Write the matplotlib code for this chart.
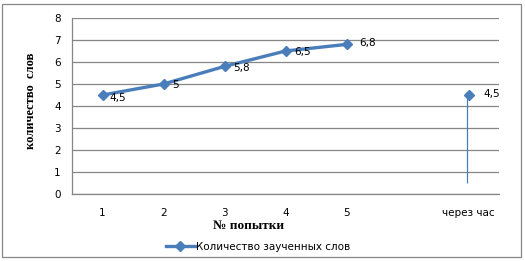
import matplotlib.pyplot as plt
from matplotlib.patches import Rectangle

categories = ["1", "2", "3", "4", "5", "", "через час"]
words = [4.5, 5, 5.8, 6.5, 6.8, None, 4.5]
labels = ["4,5", "5", "5,8", "6,5", "6,8", "", "4,5"]
drop_low = 0.5

blue = "#4A7EBB"
grid = "#868686"

fig = plt.figure(figsize=(5.25, 2.61), dpi=100)
ax = fig.add_axes([72 / 525, 1 - 194 / 261, 427 / 525, 176 / 261])

x = list(range(len(categories)))
xs_line = [i for i in x[:5]]
ys_line = [words[i] for i in xs_line]
ax.plot(xs_line, ys_line, color=blue, lw=2.4, marker="D", ms=5, zorder=3,
        label="Количество заученных слов")
ax.plot([6], [words[6]], color=blue, marker="D", ms=5, ls="none", zorder=3)
ax.vlines(6 - 0.03, drop_low, words[6], color=blue, lw=0.9, zorder=2)

offsets = [(5, -2), (6, -1), (6, -1), (6, -1), (9, 1), None, (11, 1)]
for i in x:
    if words[i] is None:
        continue
    dx, dy = offsets[i]
    ax.annotate(labels[i], (i, words[i]), xytext=(dx, dy), textcoords="offset points",
                ha="left", va="center", fontsize=7.5, family="DejaVu Sans")

ax.set_xlim(-0.5, 6.5)
ax.set_ylim(0, 8)
ax.set_yticks(range(0, 9))
ax.set_xticks(x)
ax.set_xticklabels(categories)
ax.tick_params(axis="both", length=0, labelsize=7.5, colors="black")
ax.tick_params(axis="x", pad=10)
ax.tick_params(axis="y", pad=8)
ax.grid(axis="y", color=grid, lw=0.9)
ax.set_axisbelow(True)
for s in ["top", "right"]:
    ax.spines[s].set_visible(False)
ax.spines["left"].set_color(grid)
ax.spines["bottom"].set_color(grid)
ax.spines["left"].set_linewidth(0.9)
ax.spines["bottom"].set_linewidth(0.9)

ax.set_ylabel("количество  слов", family="Liberation Serif", fontweight="bold",
              fontsize=9)
ax.yaxis.set_label_coords(-35 / 427, 0.53)
ax.set_xlabel("№ попытки", family="Liberation Serif", fontweight="bold",
              fontsize=9.5)
ax.xaxis.set_label_coords((249 - 72) / 427, -26 / 176)

fig.legend(loc="center", bbox_to_anchor=(258 / 525, 1 - 247 / 261), frameon=False,
           fontsize=7.5, handlelength=2.8, handletextpad=0.1)

fig.patches.append(Rectangle((2 / 525, 4 / 261), 519 / 525, 253 / 261, transform=fig.transFigure,
                             fill=False, edgecolor=grid, lw=0.9))

fig.savefig("out.png", dpi=100)
